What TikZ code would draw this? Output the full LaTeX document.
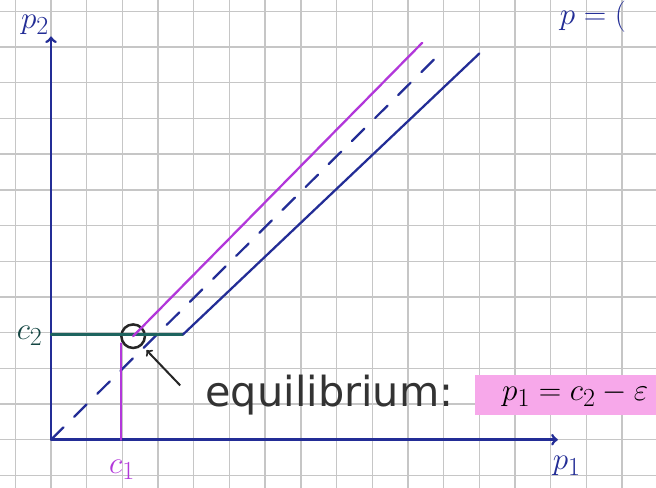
\documentclass[tikz,border=0pt]{standalone}
\usepackage{amsmath,amssymb}
\usepackage{fontspec}
\usepackage{xcolor}
\usepackage{tikz}
\usetikzlibrary{arrows,positioning,calc}

\newfontfamily\handfont{DejaVu Sans}

\definecolor{penblue}{RGB}{35,45,150}
\definecolor{penpurple}{RGB}{178,55,218}
\definecolor{penteal}{RGB}{30,100,95}
\definecolor{hilite}{RGB}{247,168,234}

\begin{document}
\begin{tikzpicture}
    \tikzstyle{gridline} = [draw=gray!45, line width=1.1pt]
    \tikzstyle{axis} = [->, >=to, draw=penblue, line width=2.2pt]
    \tikzstyle{axislabel} = [font=\fontsize{28}{30}\selectfont, inner sep=0pt]
    \tikzstyle{curve} = [line width=1.8pt, line cap=round]
    \tikzstyle{note} = [font=\fontsize{33}{38}\selectfont\handfont, inner sep=0pt]

    \useasboundingbox (-1.43,-1.34) rectangle (16.95,12.32);
    \fill[white] (-1.43,-1.34) rectangle (16.95,12.32);
    \draw[gridline] (-1.43,-1.34) grid (16.95,12.32);

    % points of the sketch
    \coordinate (O) at (0,0);
    \coordinate (ytop) at (0,11.3);
    \coordinate (xend) at (14.2,0);
    \coordinate (c2) at (0,2.95);
    \coordinate (c1) at (1.95,0);
    \coordinate (c1top) at (1.95,2.7);
    \coordinate (kink) at (3.7,2.95);
    \coordinate (blueend) at (12,10.82);
    \coordinate (purpleend) at (10.4,11.12);
    \coordinate (dashend) at (11,10.92);
    \coordinate (tail) at (3.62,1.52);

    \node[circle, draw=black!85, line width=2pt, minimum size=0.66cm, inner sep=0pt] (eq) at (2.3,2.9) {};

    \draw[axis] (O) -- (ytop);
    \draw[axis] (O) -- (xend);

    \draw[curve, penblue, dash pattern=on 14pt off 12pt] (O) -- (dashend);
    \draw[curve, penpurple] (c1) -- (c1top);
    \draw[curve, penteal] (c2) -- (kink);
    \draw[curve, penblue] (kink) -- (blueend);
    \draw[curve, penpurple] (eq.center) -- (purpleend);
    \draw[->, >=to, line width=1.6pt, black!85, shorten >=5pt] (tail) -- (eq);

    \node[axislabel, text=penblue] (p2) at (-0.45,11.62) {$p_2$};
    \node[axislabel, text=penteal!70!black] (c2lab) at (-0.6,2.9) {$c_2$};
    \node[axislabel, text=penpurple] (c1lab) at (1.99,-0.85) {$c_1$};
    \node[axislabel, text=penblue] (p1) at (14.45,-0.72) {$p_1$};
    \node[axislabel, text=penblue, anchor=base west, font=\fontsize{30}{32}\selectfont] (ptop) at (14.25,11.62) {$p = ($};

    \node[note, text=black!80] (eqlabel) at (7.8,1.26) {equilibrium:};
    \node[fill=hilite, minimum height=1.12cm, minimum width=5.6cm, font=\fontsize{30}{34}\selectfont, right=0.6cm of eqlabel] (eqrule) {$p_1 = c_2 - \varepsilon$};
\end{tikzpicture}
\end{document}
